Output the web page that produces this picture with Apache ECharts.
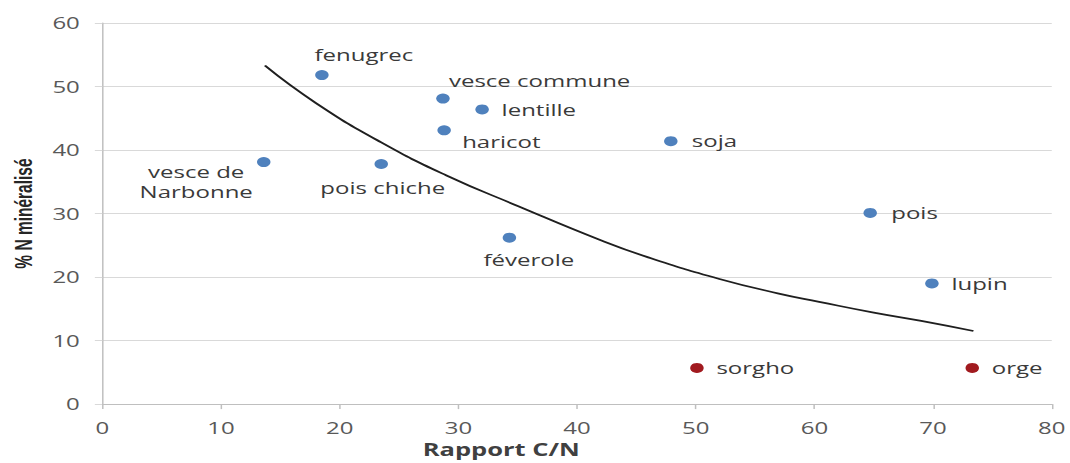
<!DOCTYPE html>
<html>
<head>
<meta charset="utf-8">
<script src="https://cdn.jsdelivr.net/npm/echarts@6/dist/echarts.min.js"></script>
<style>
  html, body { margin: 0; padding: 0; background: #fff; overflow: hidden; }
  #wrap { width: 1070px; height: 463px; overflow: hidden; }
  /* the figure is laid out narrow and widened horizontally */
  #chart { width: 713px; height: 463px; transform: scaleX(1.5007); transform-origin: 0 0; }
</style>
</head>
<body>
<div id="wrap"><div id="chart"></div></div>
<script>
// Légumineuses
const legumeNames = ['fenugrec', 'vesce commune', 'lentille', 'haricot', 'soja',
  'vesce de\nNarbonne', 'pois chiche', 'féverole', 'pois', 'lupin'];
const legumeCN  = [18.5, 28.7, 32.0, 28.8, 47.9, 13.6, 23.5, 34.3, 64.7, 69.9];
const legumeN   = [51.8, 48.1, 46.4, 43.1, 41.4, 38.1, 37.8, 26.2, 30.1, 19.0];

// Céréales
const cerealNames = ['sorgho', 'orge'];
const cerealCN    = [50.1, 73.3];
const cerealN     = [5.7, 5.7];

// Courbe de tendance
const trendCN = [13.7, 18.0, 23.5, 29.0, 35.0, 42.0, 46.0, 52.0, 57.0, 60.4, 65.0, 69.0, 73.4];
const trendN  = [53.3, 47.4, 41.2, 36.0, 31.2, 25.8, 23.1, 19.7, 17.4, 16.1, 14.4, 13.1, 11.5];

// Axis ticks
const xTicks = [0, 10, 20, 30, 40, 50, 60, 70, 80];
const yTicks = [0, 10, 20, 30, 40, 50, 60];

// Label placement (offset from the point centre, text alignment)
const labelPlace = {
  'fenugrec':          { off: [-5, -20], align: 'left' },
  'vesce commune':     { off: [4, -18],  align: 'left' },
  'lentille':          { off: [13, 0],   align: 'left' },
  'haricot':           { off: [12, 11],  align: 'left' },
  'soja':              { off: [14, 0],   align: 'left' },
  'vesce de\nNarbonne':{ off: [-45, 20], align: 'center' },
  'pois chiche':       { off: [1, 24],   align: 'center' },
  'féverole':          { off: [13, 22],  align: 'center' },
  'pois':              { off: [14, 0],   align: 'left' },
  'lupin':             { off: [13, 0],   align: 'left' },
  'sorgho':            { off: [13, 0],   align: 'left' },
  'orge':              { off: [13, 0],   align: 'left' }
};

function points(names, xs, ys) {
  return names.map((n, i) => {
    const p = labelPlace[n];
    return {
      name: n,
      value: [xs[i], ys[i]],
      label: { offset: p.off, align: p.align }
    };
  });
}

const labelStyle = {
  show: true,
  position: 'inside',
  verticalAlign: 'middle',
  formatter: '{b}',
  color: '#3a3a3a',
  fontFamily: 'Open Sans',
  fontSize: 16,
  lineHeight: 20
};

const chart = echarts.init(document.getElementById('chart'), null, { renderer: 'svg' });
chart.setOption({
  animation: false,
  backgroundColor: '#ffffff',
  grid: { left: 68, right: 11, top: 23, bottom: 58 },
  xAxis: {
    type: 'value',
    min: xTicks[0],
    max: xTicks[xTicks.length - 1],
    interval: xTicks[1] - xTicks[0],
    name: 'Rapport C/N',
    nameLocation: 'middle',
    nameGap: 35,
    nameTextStyle: {
      fontFamily: 'Open Sans', fontWeight: 'bold', fontSize: 17,
      color: '#404040', padding: [0, 101, 0, 0]
    },
    axisLine: { show: true, lineStyle: { color: '#bfbfbf', width: 1 } },
    axisTick: { show: true, length: 5, lineStyle: { color: '#bfbfbf' } },
    axisLabel: { margin: 16, color: '#595959', fontFamily: 'Open Sans', fontSize: 16 },
    splitLine: { show: false }
  },
  yAxis: {
    type: 'value',
    min: yTicks[0],
    max: yTicks[yTicks.length - 1],
    interval: yTicks[1] - yTicks[0],
    name: '% N minéralisé',
    nameLocation: 'middle',
    nameGap: 44,
    nameRotate: 90,
    nameTextStyle: {
      fontFamily: 'Liberation Sans', fontWeight: 'bold', fontSize: 15.5, color: '#262626'
    },
    axisLine: { show: true, lineStyle: { color: '#bfbfbf', width: 1 } },
    axisTick: { show: true, length: 5, lineStyle: { color: '#d9d9d9' } },
    axisLabel: { margin: 15, color: '#595959', fontFamily: 'Open Sans', fontSize: 16 },
    splitLine: { show: true, lineStyle: { color: '#d9d9d9', width: 1 } }
  },
  series: [
    {
      type: 'line',
      data: trendCN.map((x, i) => [x, trendN[i]]),
      smooth: 0.5,
      showSymbol: false,
      lineStyle: { color: '#1f1f1f', width: 1.7 },
      z: 1
    },
    {
      type: 'scatter',
      data: points(legumeNames, legumeCN, legumeN),
      symbol: 'circle',
      symbolSize: [9, 10],
      itemStyle: { color: '#4f81bd', opacity: 1 },
      label: labelStyle,
      z: 2
    },
    {
      type: 'scatter',
      data: points(cerealNames, cerealCN, cerealN),
      symbol: 'circle',
      symbolSize: [9, 10],
      itemStyle: { color: '#a11a1f', opacity: 1 },
      label: labelStyle,
      z: 2
    }
  ]
});
</script>
</body>
</html>
